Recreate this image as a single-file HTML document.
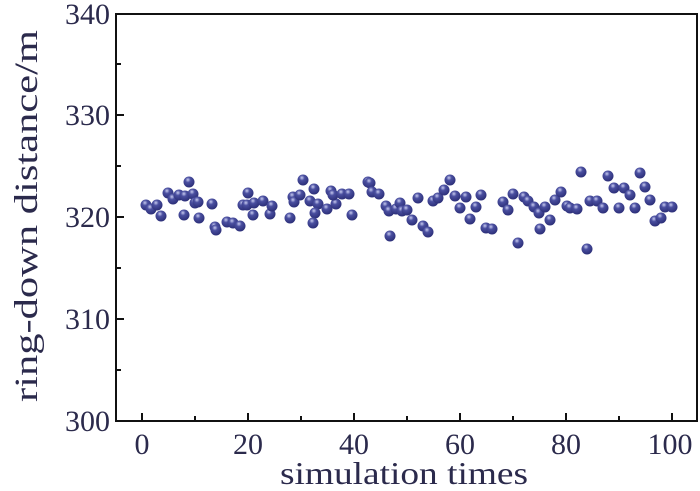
<!DOCTYPE html>
<html><head><style>body{margin:0;background:#fff}svg{display:block}text{font-family:"Liberation Serif",serif;fill:#2b2a4c}</style></head><body>
<svg width="700" height="491" viewBox="0 0 700 491">
<defs><radialGradient id="g" cx="0.4" cy="0.3" r="0.7"><stop offset="0" stop-color="#c8cbf0"/><stop offset="0.35" stop-color="#4a4fa0"/><stop offset="1" stop-color="#2c2f78"/></radialGradient></defs>
<rect x="116" y="14" width="581" height="407" fill="none" stroke="#111" stroke-width="2"/>
<g stroke="#111" stroke-width="2">
<line x1="116" y1="319" x2="124" y2="319"/><line x1="116" y1="217" x2="124" y2="217"/><line x1="116" y1="115" x2="124" y2="115"/>
<line x1="116" y1="370" x2="121" y2="370"/><line x1="116" y1="268" x2="121" y2="268"/><line x1="116" y1="166" x2="121" y2="166"/><line x1="116" y1="64" x2="121" y2="64"/>
<line x1="142" y1="421" x2="142" y2="413"/><line x1="248" y1="421" x2="248" y2="413"/><line x1="354" y1="421" x2="354" y2="413"/><line x1="460" y1="421" x2="460" y2="413"/><line x1="566" y1="421" x2="566" y2="413"/><line x1="672" y1="421" x2="672" y2="413"/>
<line x1="195" y1="421" x2="195" y2="416"/><line x1="301" y1="421" x2="301" y2="416"/><line x1="407" y1="421" x2="407" y2="416"/><line x1="513" y1="421" x2="513" y2="416"/><line x1="619" y1="421" x2="619" y2="416"/>
</g>
<g font-size="30" text-anchor="end">
<text x="110" y="431">300</text><text x="110" y="329">310</text><text x="110" y="227">320</text><text x="110" y="125">330</text><text x="110" y="24">340</text>
</g>
<g font-size="30" text-anchor="middle">
<text x="142" y="454">0</text><text x="248" y="454">20</text><text x="354" y="454">40</text><text x="460" y="454">60</text><text x="566" y="454">80</text><text x="670" y="454">100</text>
</g>
<text x="280" y="484" font-size="32" textLength="248" lengthAdjust="spacingAndGlyphs">simulation times</text>
<text transform="translate(37,402) rotate(-90)" font-size="33" textLength="372" lengthAdjust="spacingAndGlyphs">ring-down distance/m</text>
<g fill="url(#g)">
<circle cx="146" cy="205" r="5.5"/><circle cx="151" cy="209" r="5.5"/><circle cx="157" cy="205" r="5.5"/><circle cx="161" cy="216" r="5.5"/><circle cx="168" cy="193" r="5.5"/><circle cx="173" cy="199" r="5.5"/><circle cx="179" cy="195" r="5.5"/><circle cx="185" cy="196" r="5.5"/><circle cx="189" cy="182" r="5.5"/><circle cx="184" cy="215" r="5.5"/><circle cx="193" cy="194" r="5.5"/><circle cx="195" cy="203" r="5.5"/><circle cx="198" cy="202" r="5.5"/><circle cx="215" cy="227" r="5.5"/><circle cx="199" cy="218" r="5.5"/><circle cx="212" cy="204" r="5.5"/><circle cx="216" cy="230" r="5.5"/><circle cx="227" cy="222" r="5.5"/><circle cx="233" cy="223" r="5.5"/><circle cx="240" cy="226" r="5.5"/><circle cx="243" cy="205" r="5.5"/><circle cx="247" cy="205" r="5.5"/><circle cx="248" cy="193" r="5.5"/><circle cx="254" cy="203" r="5.5"/><circle cx="253" cy="215" r="5.5"/><circle cx="263" cy="201" r="5.5"/><circle cx="270" cy="214" r="5.5"/><circle cx="272" cy="206" r="5.5"/><circle cx="290" cy="218" r="5.5"/><circle cx="293" cy="197" r="5.5"/><circle cx="294" cy="202" r="5.5"/><circle cx="300" cy="195" r="5.5"/><circle cx="303" cy="180" r="5.5"/><circle cx="310" cy="201" r="5.5"/><circle cx="314" cy="189" r="5.5"/><circle cx="318" cy="204" r="5.5"/><circle cx="315" cy="213" r="5.5"/><circle cx="313" cy="223" r="5.5"/><circle cx="327" cy="209" r="5.5"/><circle cx="331" cy="191" r="5.5"/><circle cx="336" cy="204" r="5.5"/><circle cx="333" cy="195" r="5.5"/><circle cx="342" cy="194" r="5.5"/><circle cx="349" cy="194" r="5.5"/><circle cx="352" cy="215" r="5.5"/><circle cx="368" cy="182" r="5.5"/><circle cx="370" cy="183" r="5.5"/><circle cx="372" cy="192" r="5.5"/><circle cx="379" cy="194" r="5.5"/><circle cx="386" cy="206" r="5.5"/><circle cx="389" cy="211" r="5.5"/><circle cx="396" cy="209" r="5.5"/><circle cx="390" cy="236" r="5.5"/>
<circle cx="400" cy="203" r="5.5"/><circle cx="402" cy="211" r="5.5"/><circle cx="407" cy="210" r="5.5"/><circle cx="412" cy="220" r="5.5"/><circle cx="418" cy="198" r="5.5"/><circle cx="423" cy="226" r="5.5"/><circle cx="428" cy="232" r="5.5"/><circle cx="433" cy="201" r="5.5"/><circle cx="438" cy="198" r="5.5"/><circle cx="444" cy="190" r="5.5"/><circle cx="450" cy="180" r="5.5"/><circle cx="455" cy="196" r="5.5"/><circle cx="460" cy="208" r="5.5"/><circle cx="466" cy="197" r="5.5"/><circle cx="470" cy="219" r="5.5"/><circle cx="476" cy="207" r="5.5"/><circle cx="481" cy="195" r="5.5"/><circle cx="486" cy="228" r="5.5"/><circle cx="492" cy="229" r="5.5"/><circle cx="503" cy="202" r="5.5"/><circle cx="508" cy="210" r="5.5"/><circle cx="513" cy="194" r="5.5"/><circle cx="524" cy="197" r="5.5"/><circle cx="528" cy="201" r="5.5"/><circle cx="534" cy="207" r="5.5"/><circle cx="539" cy="213" r="5.5"/><circle cx="540" cy="229" r="5.5"/><circle cx="545" cy="207" r="5.5"/><circle cx="550" cy="220" r="5.5"/><circle cx="555" cy="200" r="5.5"/><circle cx="561" cy="192" r="5.5"/><circle cx="567" cy="206" r="5.5"/><circle cx="570" cy="208" r="5.5"/><circle cx="577" cy="209" r="5.5"/><circle cx="581" cy="172" r="5.5"/><circle cx="518" cy="243" r="5.5"/><circle cx="587" cy="249" r="5.5"/><circle cx="590" cy="201" r="5.5"/><circle cx="597" cy="201" r="5.5"/><circle cx="603" cy="208" r="5.5"/><circle cx="608" cy="176" r="5.5"/><circle cx="614" cy="188" r="5.5"/><circle cx="619" cy="208" r="5.5"/><circle cx="624" cy="188" r="5.5"/><circle cx="630" cy="195" r="5.5"/><circle cx="635" cy="208" r="5.5"/><circle cx="640" cy="173" r="5.5"/><circle cx="645" cy="187" r="5.5"/><circle cx="650" cy="200" r="5.5"/><circle cx="655" cy="221" r="5.5"/><circle cx="661" cy="218" r="5.5"/><circle cx="665" cy="207" r="5.5"/><circle cx="672" cy="207" r="5.5"/>
</g>
</svg>
</body></html>
